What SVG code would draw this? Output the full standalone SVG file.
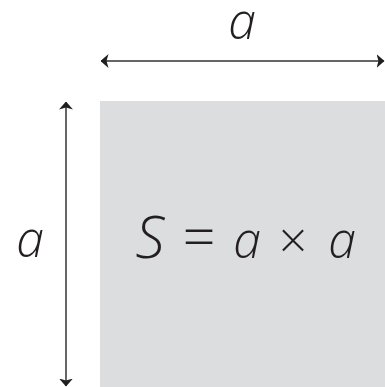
<svg xmlns="http://www.w3.org/2000/svg" width="385" height="387" viewBox="0 0 385 387">
<defs>
<style>
.lbl{font-family:"Open Sans","Noto Sans","DejaVu Sans",sans-serif;font-style:italic;font-weight:300;fill:#231f20}
.op{font-style:normal;font-weight:300}
.dim{stroke:#333;stroke-width:1.5;fill:none}
</style>
<marker id="ah" viewBox="0 0 8 14" refX="7.5" refY="7" markerWidth="8" markerHeight="14" markerUnits="userSpaceOnUse" orient="auto-start-reverse">
<path d="M0,0 L8,7 L0,14 L2,7 Z" fill="#231f20"/>
</marker>
</defs>
<g id="square">
<rect x="100" y="101" width="285" height="286" fill="#dcdddf"/>
</g>
<g id="connectors">
<line class="dim" x1="101" y1="61" x2="384" y2="61" marker-start="url(#ah)" marker-end="url(#ah)"/>
<line class="dim" x1="66" y1="102" x2="66" y2="386" marker-start="url(#ah)" marker-end="url(#ah)"/>
</g>
<g id="label-top">
<text class="lbl" x="242" y="39" font-size="50" text-anchor="middle">a</text>
</g>
<g id="label-left">
<text class="lbl" x="30" y="257" font-size="50" text-anchor="middle">a</text>
</g>
<g id="formula">
<text class="lbl" y="258" font-size="50" text-anchor="middle"><tspan x="150" font-size="58">S</tspan><tspan x="199" class="op" font-size="58">=</tspan><tspan x="247">a</tspan><tspan x="293" class="op" font-size="50">×</tspan><tspan x="342">a</tspan></text>
</g>
</svg>
